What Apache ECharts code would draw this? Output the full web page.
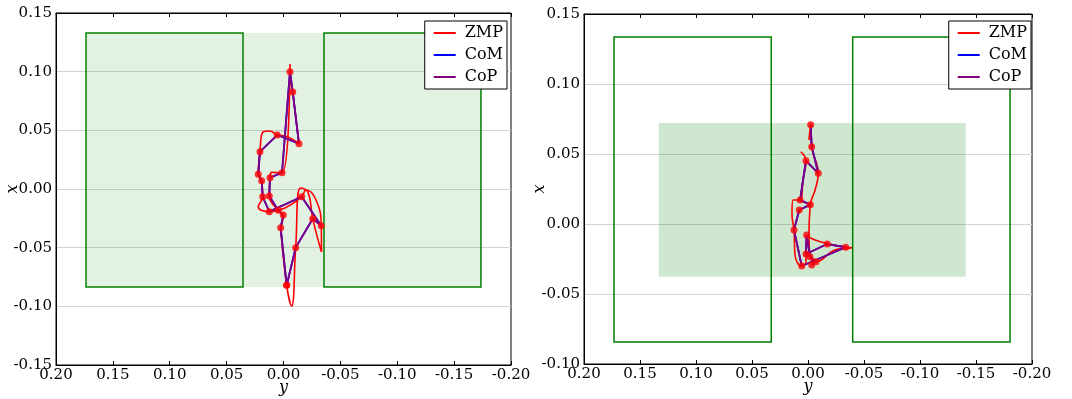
<!DOCTYPE html>
<html>
<head>
<meta charset="utf-8">
<script src="https://cdn.jsdelivr.net/npm/echarts@6/dist/echarts.min.js"></script>
<style>
  html, body { margin: 0; padding: 0; background: #fff; }
  #chart { width: 1072px; height: 399px; }
</style>
</head>
<body>
<div id="chart"></div>
<script>
// Points are [y, x] pairs: lateral y on the horizontal axis, forward x on the vertical axis.

// Left panel: double support over both feet
const leftZmp = [
  [0.0025,-0.0330],[-0.0028,-0.0821],[-0.0072,-0.0997],[-0.0107,-0.0500],[-0.0149,0.0009],
  [-0.0215,-0.0026],[-0.0257,-0.0253],[-0.0334,-0.0537],[-0.0332,-0.0313],[-0.0286,-0.0094],
  [-0.0198,-0.0009],[-0.0160,-0.0066],[-0.0013,-0.0162],[0.0125,-0.0193],[0.0222,-0.0151],
  [0.0183,-0.0066],[0.0192,0.0071],[0.0222,0.0125],[0.0207,0.0318],[0.0178,0.0488],
  [0.0119,0.0494],[0.0055,0.0460],[-0.0013,0.0452],[-0.0136,0.0386],[-0.0081,0.0827],
  [-0.0057,0.1000],[-0.0057,0.1065],[0.0013,0.0139],[0.0104,0.0142],[0.0119,0.0096],
  [0.0125,-0.0060],[0.0046,-0.0182],[0.0002,-0.0222],[0.0025,-0.0330]
];
const leftCop = [
  [-0.0028,-0.0821],[0.0025,-0.0330],[0.0002,-0.0222],[0.0046,-0.0182],[0.0125,-0.0060],
  [0.0119,0.0096],[0.0013,0.0139],[-0.0057,0.1000],[-0.0081,0.0827],[-0.0136,0.0386],
  [0.0055,0.0460],[0.0207,0.0318],[0.0222,0.0125],[0.0192,0.0071],[0.0183,-0.0066],
  [0.0125,-0.0193],[-0.0160,-0.0066],[-0.0332,-0.0313],[-0.0257,-0.0253],[-0.0107,-0.0500],
  [-0.0028,-0.0821]
];
const leftCom = leftCop;
// foot rectangles: [y1, y2, x1, x2]
const leftFeet = [
  [0.1736, 0.0356, 0.1330, -0.0835],
  [-0.0356, -0.1736, 0.1330, -0.0835]
];
const leftSupport = [[0.1736, -0.1736, 0.1330, -0.0835]];

// Right panel: reduced support region
const rightZmp = [
  [0.0065,0.0516],[0.0018,0.0452],[0.0045,0.0314],[0.0071,0.0171],[0.0134,0.0171],
  [0.0143,0.0064],[0.0125,-0.0043],[0.0116,-0.0221],[0.0056,-0.0300],[0.0018,-0.0271],
  [0.0018,-0.0214],[0.0012,-0.0086],[-0.0063,-0.0114],[-0.0172,-0.0139],[-0.0337,-0.0166],
  [-0.0390,-0.0170],[-0.0241,-0.0186],[-0.0071,-0.0269],[-0.0018,-0.0234],[-0.0009,-0.0079],
  [-0.0021,0.0138],[-0.0063,0.0243],[-0.0092,0.0362],[-0.0033,0.0552],[-0.0024,0.0709],
  [-0.0009,0.0600]
];
const rightCop = [
  [-0.0024,0.0709],[-0.0033,0.0552],[-0.0092,0.0362],[0.0018,0.0452],[0.0071,0.0171],
  [-0.0021,0.0138],[0.0078,0.0100],[0.0125,-0.0043],[0.0056,-0.0300],[-0.0337,-0.0166],
  [-0.0172,-0.0143],[0.0018,-0.0214],[0.0012,-0.0079],[-0.0018,-0.0234],[-0.0071,-0.0269],
  [-0.0033,-0.0293]
];
const rightCom = rightCop;
const rightFeet = [
  [0.1732, 0.0328, 0.1336, -0.0843],
  [-0.0399, -0.1804, 0.1336, -0.0843]
];
const rightSupport = [[0.1333, -0.1408, 0.0721, -0.0376]];

// axis ranges
const yRange = [-0.20, 0.20];
const leftXRange = [-0.15, 0.15];
const rightXRange = [-0.10, 0.15];
const tickStep = 0.05;

const seriesNames = ['ZMP', 'CoM', 'CoP'];
const colors = { ZMP: '#ff0000', CoM: '#0000ff', CoP: '#800080' };
const FONT = "'DejaVu Serif', serif";

function rectSeries(data, gridIdx, fill, stroke, z) {
  return {
    type: 'custom',
    xAxisIndex: gridIdx * 2,
    yAxisIndex: gridIdx,
    z: z,
    silent: true,
    encode: { x: [0, 1], y: [2, 3] },
    data: data,
    renderItem: function (params, api) {
      const p1 = api.coord([api.value(0), api.value(2)]);
      const p2 = api.coord([api.value(1), api.value(3)]);
      return {
        type: 'rect',
        shape: {
          x: Math.min(p1[0], p2[0]),
          y: Math.min(p1[1], p2[1]),
          width: Math.abs(p2[0] - p1[0]),
          height: Math.abs(p2[1] - p1[1])
        },
        style: { fill: fill, stroke: stroke, lineWidth: stroke ? 1.5 : 0 }
      };
    }
  };
}

function lineSeries(name, data, gridIdx, smooth, z, width) {
  return {
    name: name,
    type: 'line',
    xAxisIndex: gridIdx * 2,
    yAxisIndex: gridIdx,
    data: data,
    smooth: smooth,
    symbol: 'none',
    z: z,
    lineStyle: { color: colors[name], width: width },
    itemStyle: { color: colors[name] },
    animation: false
  };
}

function dotSeries(data, gridIdx) {
  return {
    name: 'samples',
    type: 'scatter',
    xAxisIndex: gridIdx * 2,
    yAxisIndex: gridIdx,
    data: data,
    symbolSize: 7,
    z: 10,
    itemStyle: { color: '#ff0000' },
    animation: false
  };
}

function bottomAxis(gridIdx) {
  return {
    type: 'value', gridIndex: gridIdx, position: 'bottom', inverse: true,
    min: yRange[0], max: yRange[1], interval: tickStep,
    name: 'y', nameLocation: 'middle', nameGap: 15, nameMoveOverlap: false,
    nameTextStyle: { fontFamily: FONT, fontStyle: 'italic', fontSize: 16, color: '#000' },
    axisLine: { show: true, onZero: false, lineStyle: { color: '#000', width: 1 } },
    axisTick: { show: true, inside: true, length: 4, lineStyle: { color: '#000' } },
    axisLabel: {
      fontFamily: FONT, fontSize: 15, color: '#000', margin: 3,
      formatter: v => v.toFixed(2)
    },
    splitLine: { show: false }
  };
}

function topAxis(gridIdx) {
  return {
    type: 'value', gridIndex: gridIdx, position: 'top', inverse: true,
    min: yRange[0], max: yRange[1], interval: tickStep,
    axisLine: { show: true, onZero: false, lineStyle: { color: '#000', width: 1 } },
    axisTick: { show: true, inside: true, length: 4, lineStyle: { color: '#000' } },
    axisLabel: { show: false },
    splitLine: { show: false }
  };
}

function sideAxis(gridIdx, range, nameGap) {
  return {
    type: 'value', gridIndex: gridIdx,
    min: range[0], max: range[1], interval: tickStep,
    name: 'x', nameLocation: 'middle', nameGap: nameGap, nameRotate: 90, nameMoveOverlap: false,
    nameTextStyle: { fontFamily: FONT, fontStyle: 'italic', fontSize: 16, color: '#000' },
    axisLine: { show: true, onZero: false, lineStyle: { color: '#000', width: 1 } },
    axisTick: { show: false },
    axisLabel: {
      fontFamily: FONT, fontSize: 15, color: '#000', margin: 4,
      formatter: v => v.toFixed(2)
    },
    splitLine: { show: true, lineStyle: { color: '#d3d3d3', width: 1 } }
  };
}

function legendAt(right) {
  return {
    data: seriesNames.map(n => ({ name: n, icon: 'rect' })),
    orient: 'vertical',
    right: right, top: 21,
    itemWidth: 22, itemHeight: 2, itemGap: 6,
    padding: [4, 4, 4, 9],
    backgroundColor: '#fff',
    borderColor: '#000', borderWidth: 1, borderRadius: 0,
    selectedMode: false,
    textStyle: { fontFamily: FONT, fontSize: 16, color: '#000', padding: [0, 0, 0, 4] }
  };
}

const gridBase = { show: true, borderColor: '#000', borderWidth: 1, backgroundColor: 'transparent', outerBoundsMode: 'none', containLabel: false };

const option = {
  animation: false,
  backgroundColor: '#fff',
  grid: [
    Object.assign({ left: 56, top: 13, width: 455, height: 352 }, gridBase),
    Object.assign({ left: 584, top: 14, width: 448, height: 350 }, gridBase)
  ],
  xAxis: [bottomAxis(0), topAxis(0), bottomAxis(1), topAxis(1)],
  yAxis: [sideAxis(0, leftXRange, 35), sideAxis(1, rightXRange, 36)],
  legend: [legendAt(1072 - 507), legendAt(1072 - 1031)],
  series: [
    rectSeries(leftSupport, 0, 'rgba(0,128,0,0.11)', null, 1),
    rectSeries(leftFeet, 0, 'rgba(0,0,0,0)', '#008000', 2),
    lineSeries('ZMP', leftZmp, 0, 0.45, 3, 1.6),
    lineSeries('CoM', leftCom, 0, false, 4, 1.8),
    lineSeries('CoP', leftCop, 0, false, 5, 1.8),
    dotSeries(leftCop, 0),

    rectSeries(rightSupport, 1, 'rgba(0,128,0,0.19)', null, 1),
    rectSeries(rightFeet, 1, 'rgba(0,0,0,0)', '#008000', 2),
    lineSeries('ZMP', rightZmp, 1, 0.45, 3, 1.6),
    lineSeries('CoM', rightCom, 1, false, 4, 1.8),
    lineSeries('CoP', rightCop, 1, false, 5, 1.8),
    dotSeries(rightCop, 1)
  ]
};

const chart = echarts.init(document.getElementById('chart'), null, { renderer: 'canvas' });
chart.setOption(option);
</script>
</body>
</html>
